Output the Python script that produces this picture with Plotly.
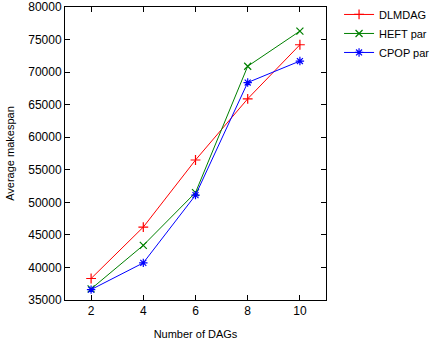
import plotly.graph_objects as go

num_dags = [2, 4, 6, 8, 10]
dlmdag = [38300, 46200, 56500, 65900, 74200]
heft_par = [36700, 43400, 51500, 70900, 76300]
cpop_par = [36600, 40700, 51100, 68400, 71700]

x_ticks = [2, 4, 6, 8, 10]
y_ticks = [35000, 40000, 45000, 50000, 55000, 60000, 65000, 70000, 75000, 80000]

series = [
    ("DLMDAG", dlmdag, "#ff0000", "cross-thin-open"),
    ("HEFT par", heft_par, "#008000", "x-thin-open"),
    ("CPOP par", cpop_par, "#0000ff", "asterisk-open"),
]

fig = go.Figure()
for name, ys, color, sym in series:
    fig.add_trace(go.Scatter(
        x=num_dags, y=ys, name=name, mode="lines+markers",
        line=dict(color=color, width=1),
        marker=dict(symbol=sym, size=7, color=color, line=dict(color=color, width=1.2)),
        cliponaxis=False,
    ))

axis_common = dict(
    showline=True, linecolor="black", linewidth=1, mirror="allticks",
    ticks="inside", ticklen=5, tickcolor="black", showgrid=False, zeroline=False,
    tickformat="d", automargin=False, ticklabeloverflow="allow",
    tickfont=dict(family="Liberation Sans, Arial, sans-serif", size=12, color="black"),
)

fig.update_layout(
    width=430, height=344,
    margin=dict(l=65, r=104, t=7, b=44, autoexpand=False),
    paper_bgcolor="white", plot_bgcolor="white",
    font=dict(family="Liberation Sans, Arial, sans-serif", size=11, color="black"),
    xaxis=dict(range=[1, 11], tickvals=x_ticks,
               title=dict(text="Number of DAGs", standoff=12, font=dict(size=11)),
               **axis_common),
    yaxis=dict(range=[35000, 80000], tickvals=y_ticks,
               title=dict(text="Average makespan", standoff=11, font=dict(size=11)),
               **axis_common),
    legend=dict(x=1.05, y=1.024, xanchor="left", yanchor="top",
                font=dict(size=11), bgcolor="rgba(0,0,0,0)",
                tracegroupgap=0, itemwidth=30),
    showlegend=True,
)

fig.write_html("out.html")
